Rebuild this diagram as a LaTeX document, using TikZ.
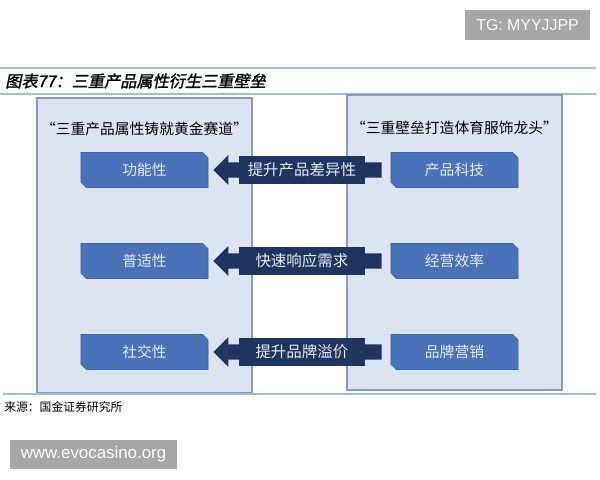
\documentclass[tikz,border=0pt]{standalone}
\usepackage{fontspec}
\newfontfamily\cjk{Noto Sans CJK SC}
\newfontfamily\cjktitle[FakeSlant=0.2,FakeBold=1.5]{Noto Sans CJK SC}
\newfontfamily\wmfont{Liberation Sans}
\usetikzlibrary{positioning, arrows.meta, shapes.misc}

\definecolor{panelfill}{HTML}{DCE4F1}
\definecolor{paneldraw}{HTML}{8A9AB8}
\definecolor{featfill}{HTML}{4A72B8}
\definecolor{featdraw}{HTML}{3D63A8}
\definecolor{feattext}{HTML}{E4EBF7}
\definecolor{navy}{HTML}{1F3560}
\definecolor{rulecol}{HTML}{9DBFDD}
\definecolor{wmgray}{HTML}{A6A6A6}

\begin{document}
\begin{tikzpicture}[
	x=0.025cm, y=-0.025cm,
	font=\cjk,
	% Define styles
	panel/.style={rectangle, draw=paneldraw, fill=panelfill, thick, minimum width=5.375cm, minimum height=7.375cm},
	heading/.style={font=\cjk\fontsize{10.5}{12}\selectfont, inner sep=0pt},
	featbox/.style={chamfered rectangle, chamfered rectangle corners={north east, south west}, chamfered rectangle xsep=0.065cm, chamfered rectangle ysep=0.065cm, draw=featdraw, fill=featfill, minimum width=3.175cm, minimum height=0.875cm, inner sep=0pt, text=feattext, font=\cjk\fontsize{10.5}{12}\selectfont},
	pusharrow/.style={-{Triangle[length=0.375cm, width=0.72cm]}, line width=0.375cm, navy, shorten <=0.225cm, shorten >=0.125cm},
	pushlabel/.style={rectangle, fill=navy, minimum width=3.15cm, minimum height=0.675cm, inner sep=0pt, text=feattext, font=\cjk\fontsize{11}{13}\selectfont},
	rule/.style={rulecol, line width=0.9pt},
	wmbox/.style={rectangle, fill=wmgray, text=white, inner sep=0pt}
	]
	\useasboundingbox (0,0) rectangle (600,480);
	
	% 1. Title between rules
	\draw[rule] (0,68) -- (596,68);
	\draw[rule] (0,94) -- (596,94);
	\node[anchor=west, font=\cjktitle\fontsize{11.5}{13}\selectfont, inner sep=0pt] (title) at (5,81) {图表77：三重产品属性衍生三重壁垒};
	
	% 2. Two panels
	\node[panel] (left) at (144.5,245.5) {};
	\node[panel] (right) at (454.5,242.5) {};
	\node[heading, below=0.6cm of left.north] (lhead) {“三重产品属性铸就黄金赛道”};
	\node[heading, below=0.67cm of right.north] (rhead) {“三重壁垒打造体育服饰龙头”};
	
	% 3. Attribute boxes
	\node[featbox] (func) at (144.5,170) {功能性};
	\node[featbox] (fit) at (144.5,261) {普适性};
	\node[featbox] (social) at (144.5,352) {社交性};
	\node[featbox] (tech) at (454.5,170) {产品科技};
	\node[featbox] (ops) at (454.5,261) {经营效率};
	\node[featbox] (brand) at (454.5,352) {品牌营销};
	
	% 4. Push arrows
	\draw[pusharrow] (tech) -- (func) node[pushlabel, midway, xshift=0.06cm] {提升产品差异性};
	\draw[pusharrow] (ops) -- (fit) node[pushlabel, midway, xshift=0.06cm] {快速响应需求};
	\draw[pusharrow] (brand) -- (social) node[pushlabel, midway, xshift=0.06cm] {提升品牌溢价};
	
	% 5. Source
	\draw[rule] (3,394) -- (596,394);
	\node[anchor=west, font=\cjk\fontsize{8.4}{10}\selectfont, inner sep=0pt] (source) at (4,407) {来源：国金证券研究所};
	
	% Watermarks
	\node[wmbox, minimum width=3.125cm, minimum height=0.75cm, font=\wmfont\fontsize{11.3}{13}\selectfont] (tg) at (527.5,25) {TG: MYYJJPP};
	\node[wmbox, minimum width=4.175cm, minimum height=0.725cm, font=\wmfont\fontsize{12}{14}\selectfont] (site) at (93.5,454.5) {www.evocasino.org};
\end{tikzpicture}
\end{document}
